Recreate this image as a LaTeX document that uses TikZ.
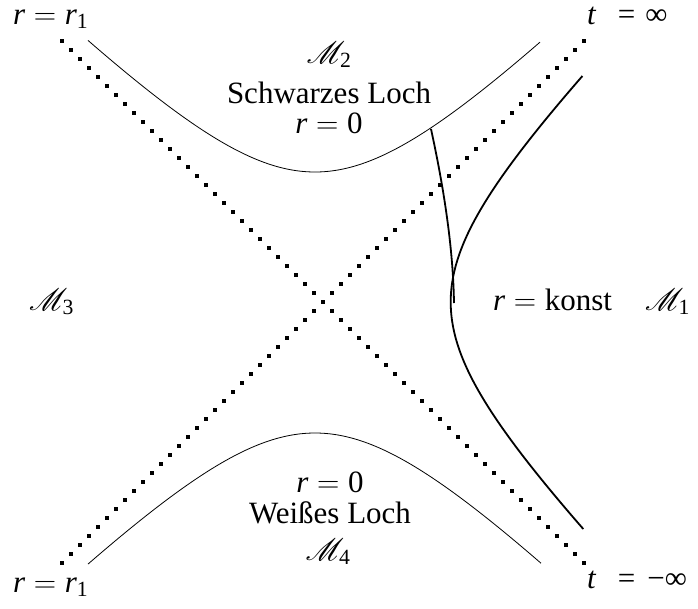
\RequirePackage{fix-cm}
\documentclass[tikz,border=0pt]{standalone}
\usepackage{amsmath}
\usepackage{mathrsfs}
\DeclareFontFamily{U}{rsfs}{\skewchar\font127 }
\DeclareFontShape{U}{rsfs}{m}{n}{<-6>rsfs5<6-8>rsfs7<8->rsfs10}{}
\usepackage[no-math]{fontspec}
\setmainfont{Liberation Serif}
\usetikzlibrary{calc}
\newcommand{\vr}{\text{\itshape r}}
\newcommand{\vt}{\text{\itshape t}}
\newcommand{\dg}[1]{\text{#1}}
\begin{document}
\begin{tikzpicture}[x=1pt,y=-1pt,
  lbl/.style={inner sep=0pt,font=\fontsize{31}{36}\selectfont},
  thin/.style={line width=0.8pt},
  thick2/.style={line width=1.8pt}]
\useasboundingbox (0,0) rectangle (698,608);
% dotted diagonals
\coordinate (C) at (322.7,302);
\foreach \k in {-29,...,29}{
  \fill ($(C)+(\k*9,\k*9)$) +(-2,-2) rectangle +(2,2);
  \fill ($(C)+(\k*9,-\k*9)$) +(-2,-2) rectangle +(2,2);
}
% upper hyperbola (r=0, black hole)
\draw[thin] plot[domain=88:540,samples=90,smooth] (\x,{302-100*sqrt(1.69+((\x-315)/100)^2)});
% lower hyperbola (r=0, white hole)
\draw[thin] plot[domain=88:541,samples=90,smooth] (\x,{302+100*sqrt(1.7161+((\x-315)/100)^2)});
% r = konst
\draw[thick2] plot[domain=-226:227,samples=90,smooth] ({322.7+100*sqrt(1.6384+(\x/100)^2)},{302+\x});
% infalling worldline
\coordinate (w0) at (431,129);
\coordinate (w1) at (454,303);
\draw[thick2] (w0) .. controls (441,175) and (453,240) .. (w1);
% labels
\node[lbl,anchor=base west] (tl) at (13,24) {$\vr=\vr_{\dg{1}}$};
\node[lbl,anchor=base west] (tr) at (587,24) {\itshape t\upshape\hspace{22pt}=\hspace{10pt}∞};
\node[lbl,anchor=base west] (bl) at (13,592) {$\vr=\vr_{\dg{1}}$};
\node[lbl,anchor=base west] (br) at (587,588) {\itshape t\upshape\hspace{22pt}=\hspace{12pt}−∞};
\node[lbl,anchor=base] (m2) at (329,63) {$\mathscr{M}_{\dg{2}}$};
\node[lbl,anchor=base] (sl) at (329,103) {Schwarzes Loch};
\node[lbl,anchor=base] (r0a) at (329,133) {$\vr=\dg{0}$};
\node[lbl,anchor=base] (r0b) at (330,492) {$\vr=\dg{0}$};
\node[lbl,anchor=base] (wl) at (330,523) {Weißes Loch};
\node[lbl,anchor=base] (m4) at (328,560) {$\mathscr{M}_{\dg{4}}$};
\node[lbl,anchor=base west] (m3) at (29,310) {$\mathscr{M}_{\dg{3}}$};
\node[lbl,anchor=base west] (rk) at (493,310) {$\vr=\text{konst}$};
\node[lbl,anchor=base west] (m1) at (645,310) {$\mathscr{M}_{\dg{1}}$};
\end{tikzpicture}
\end{document}
